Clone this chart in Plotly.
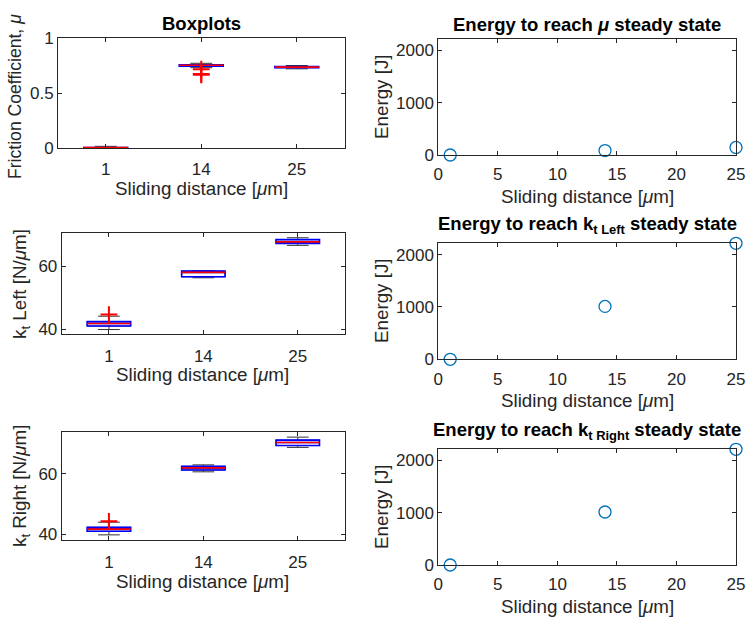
import plotly.graph_objects as go

# ---------------- data ----------------
categories = ["1", "14", "25"]
cat_pos = [1, 2, 3]

# Friction coefficient boxplot stats
fr_lo = [0.000, 0.730, 0.720]
fr_q1 = [0.001, 0.743, 0.730]
fr_med = [0.003, 0.752, 0.735]
fr_q3 = [0.005, 0.757, 0.740]
fr_hi = [0.015, 0.770, 0.750]
fr_out_x = [2, 2, 2]
fr_out_y = [0.716, 0.672, 0.665]

# kt Left boxplot stats
kl_lo = [40.0, 56.3, 66.5]
kl_q1 = [41.1, 56.6, 67.1]
kl_med = [41.9, 58.0, 67.6]
kl_q3 = [42.5, 58.4, 68.3]
kl_hi = [44.2, 58.5, 68.9]
kl_out_x = [1]
kl_out_y = [44.7]

# kt Right boxplot stats
kr_lo = [39.8, 60.7, 68.8]
kr_q1 = [41.0, 61.3, 69.4]
kr_med = [41.7, 62.0, 70.4]
kr_q3 = [42.3, 62.5, 71.2]
kr_hi = [44.0, 63.0, 72.2]
kr_out_x = [1]
kr_out_y = [44.3]

# Energy to reach steady state
dist = [1, 14, 25]
E_mu = [0, 85, 145]
E_left = [0, 1010, 2215]
E_right = [0, 1015, 2215]

# ---------------- styling ----------------
W, H = 748, 620
FONT = "Liberation Sans, Arial, Helvetica, sans-serif"
TXT = "#262626"
TICK_SIZE = 17
LBL_SIZE = 18.8
TTL_SIZE = 18.5
BOX_W = 0.46

fig = go.Figure()

def px_dom_x(a, b):
    return [a / W, b / W]

def px_dom_y(top, bottom):
    return [1 - bottom / H, 1 - top / H]

axes = {
    1: ((58, 344.5), (38, 148)),
    2: ((438.3, 736), (39.3, 155)),
    3: ((61.7, 345), (233.3, 334.3)),
    4: ((438.3, 736), (243.3, 359.3)),
    5: ((61.7, 345), (432.3, 540.3)),
    6: ((438.3, 736), (449.3, 565)),
}

common = dict(
    showline=True, mirror="ticks", ticks="inside", ticklen=4, automargin=False,
    linecolor=TXT, linewidth=1, tickcolor=TXT, showgrid=False, zeroline=False,
    tickfont=dict(size=TICK_SIZE, color=TXT, family=FONT),
)

layout = dict()
for i, ((x0, x1), (y0, y1)) in axes.items():
    xa = "xaxis" if i == 1 else f"xaxis{i}"
    ya = "yaxis" if i == 1 else f"yaxis{i}"
    layout[xa] = dict(domain=px_dom_x(x0, x1), anchor="y" if i == 1 else f"y{i}",
                      ticklabelstandoff=6 if i % 2 == 1 else 4, **common)
    layout[ya] = dict(domain=px_dom_y(y0, y1), anchor="x" if i == 1 else f"x{i}", **common)

box_panels = [
    (1, fr_lo, fr_q1, fr_med, fr_q3, fr_hi, fr_out_x, fr_out_y, [0, 1], [0, 0.5, 1], ["0", "0.5", "1"]),
    (3, kl_lo, kl_q1, kl_med, kl_q3, kl_hi, kl_out_x, kl_out_y, [38.5, 70.3], [40, 60], ["40", "60"]),
    (5, kr_lo, kr_q1, kr_med, kr_q3, kr_hi, kr_out_x, kr_out_y, [38.0, 73.8], [40, 60], ["40", "60"]),
]
for (i, lo, q1, med, q3, hi, ox, oy, yr, tv, tt) in box_panels:
    xr = "x" if i == 1 else f"x{i}"
    yref = "y" if i == 1 else f"y{i}"
    fig.add_trace(go.Box(
        x=cat_pos, q1=q1, median=med, q3=q3, lowerfence=lo, upperfence=hi,
        width=BOX_W, whiskerwidth=0.5, boxpoints=False,
        line=dict(color="#333333", width=1), fillcolor="rgba(0,0,0,0)",
        xaxis=xr, yaxis=yref, showlegend=False, hoverinfo="skip"))
    fig.add_trace(go.Box(
        x=cat_pos, q1=q1, median=med, q3=q3, lowerfence=q1, upperfence=q3,
        width=BOX_W, whiskerwidth=0, boxpoints=False,
        line=dict(color="#0000ff", width=1.6), fillcolor="rgba(0,0,0,0)",
        xaxis=xr, yaxis=yref, showlegend=False, hoverinfo="skip"))
    mx, my = [], []
    for p, m in zip(cat_pos, med):
        mx += [p - BOX_W / 2, p + BOX_W / 2, None]
        my += [m, m, None]
    fig.add_trace(go.Scatter(x=mx, y=my, mode="lines", line=dict(color="#ff0000", width=1.6),
                             xaxis=xr, yaxis=yref, showlegend=False, hoverinfo="skip"))
    fig.add_trace(go.Scatter(x=ox, y=oy, mode="markers",
                             marker=dict(symbol="cross-thin", size=12, line=dict(color="#ff0000", width=2)),
                             xaxis=xr, yaxis=yref, showlegend=False, hoverinfo="skip", cliponaxis=False))
    xa = "xaxis" if i == 1 else f"xaxis{i}"
    ya = "yaxis" if i == 1 else f"yaxis{i}"
    layout[xa].update(range=[0.5, 3.5], tickvals=cat_pos, ticktext=categories)
    layout[ya].update(range=yr, tickvals=tv, ticktext=tt)

E_max = max(E_mu + E_left + E_right)
for i, E in [(2, E_mu), (4, E_left), (6, E_right)]:
    fig.add_trace(go.Scatter(
        x=dist, y=E, mode="markers",
        marker=dict(symbol="circle-open", size=12, color="#0072BD", line=dict(width=1.3, color="#0072BD")),
        xaxis=f"x{i}", yaxis=f"y{i}", showlegend=False, cliponaxis=False))
    layout[f"xaxis{i}"].update(range=[0, 25], tickvals=[0, 5, 10, 15, 20, 25])
    layout[f"yaxis{i}"].update(range=[0, E_max], tickvals=[0, 1000, 2000])

ann = []
def text(x, y, s, size=LBL_SIZE, angle=0, bold=False):
    ann.append(dict(x=x / W, y=1 - y / H, xref="paper", yref="paper", text=(f"<b>{s}</b>" if bold else s),
                    showarrow=False, textangle=angle, xanchor="center", yanchor="middle",
                    font=dict(size=size, color="#000000" if bold else TXT, family=FONT)))

xlab = "Sliding distance [<i>μ</i>m]"
text(201, 188, xlab)
text(203, 374, xlab)
text(203, 581, xlab)
text(587, 196, xlab)
text(587, 400, xlab)
text(587, 606, xlab)
text(15, 97, "Friction Coefficient, <i>μ</i>", size=17.6, angle=-90)
text(21, 284, "k<sub>t</sub> Left [N/<i>μ</i>m]", angle=-90)
text(21, 486, "k<sub>t</sub> Right [N/<i>μ</i>m]", angle=-90)
text(381, 97, "Energy [J]", angle=-90)
text(381, 301, "Energy [J]", angle=-90)
text(381, 507, "Energy [J]", angle=-90)
text(201, 23, "Boxplots", size=TTL_SIZE, bold=True)
text(587, 25, "Energy to reach <i>μ</i> steady state", size=TTL_SIZE, bold=True)
text(587, 225, "Energy to reach k<sub>t Left</sub> steady state", size=TTL_SIZE, bold=True)
text(587, 431, "Energy to reach k<sub>t Right</sub> steady state", size=TTL_SIZE, bold=True)

fig.update_layout(
    width=W, height=H, margin=dict(l=0, r=0, t=0, b=0),
    paper_bgcolor="white", plot_bgcolor="white",
    font=dict(family=FONT, color=TXT),
    annotations=ann, **layout)

fig.write_html(
    "out.html",
    config={"displayModeBar": False, "staticPlot": True},
    post_script="document.documentElement.style.margin='0';document.body.style.margin='0';"
                "document.body.style.overflow='hidden';",
)
